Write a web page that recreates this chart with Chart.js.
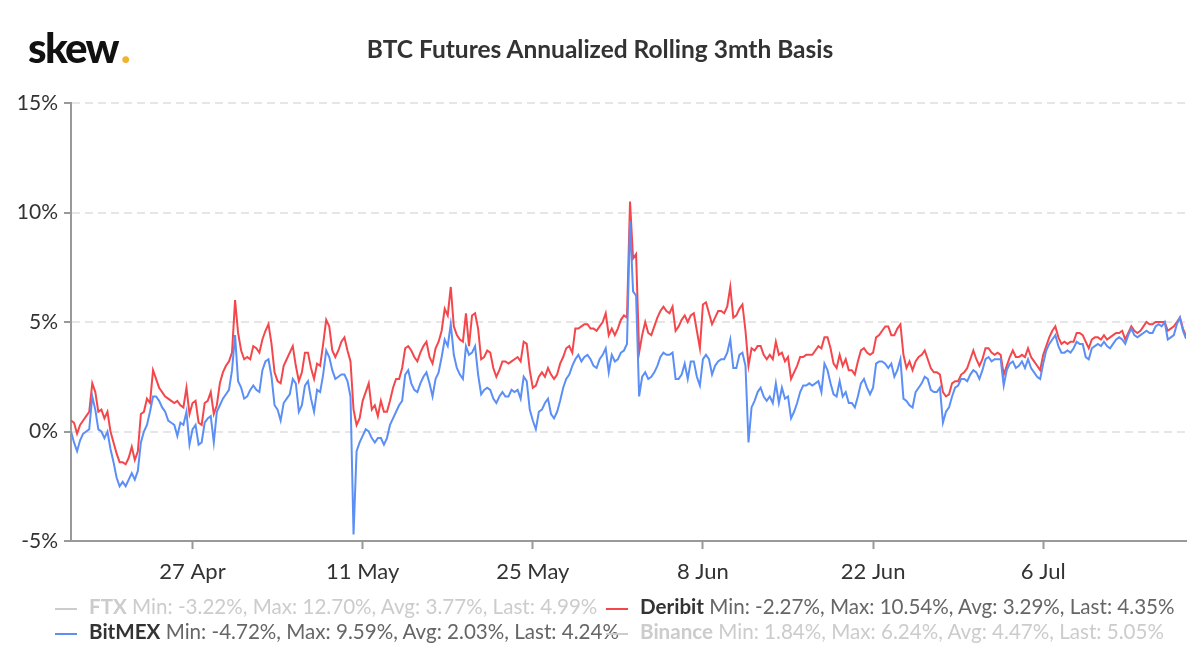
<!DOCTYPE html>
<html>
<head>
<meta charset="utf-8">
<script src="https://cdn.jsdelivr.net/npm/chart.js@4.4.1/dist/chart.umd.min.js"></script>
<style>
  html, body { margin: 0; padding: 0; background: #fff; }
  #wrap { position: relative; width: 1200px; height: 670px; font-family: Lato, sans-serif; }
  #chart { position: absolute; left: 0; top: 0; }
  #logo { position: absolute; left: 28px; top: 23px; font: 900 42px/48px Lato, sans-serif; color: #111; letter-spacing: -1.7px; }
  #logo span { color: #f0b232; margin-left: 3px; }
  #title { position: absolute; left: 0; top: 35px; width: 1200px; text-align: center; font: 700 24.5px/28px Lato, sans-serif; color: #333; }
  .leg { position: absolute; font: 20.6px/24px Lato, sans-serif; color: #666; white-space: nowrap; }
  .leg i { display: inline-block; width: 22px; height: 2px; vertical-align: middle; margin-right: 12px; }
  .leg b { font-weight: 700; color: #333; }
  .leg.off, .leg.off b { color: #ccc; }
</style>
</head>
<body>
<div id="wrap">
  <canvas id="chart" width="1200" height="670"></canvas>
  <div id="logo">skew<span>.</span></div>
  <div id="title">BTC Futures Annualized Rolling 3mth Basis</div>
  <div id="legend"></div>
</div>
<script>
// 6-hourly samples, day 0 = 17 Apr 2020
const dayStep = 0.25;
const tickDays = [10, 24, 38, 52, 66, 80];
const tickLabels = ["27 Apr", "11 May", "25 May", "8 Jun", "22 Jun", "6 Jul"];
const yTicks = [-5, 0, 5, 10, 15];

const deribit = [
  0.5, 0.4, -0.1, 0.3,  0.5, 0.7, 0.9, 2.2,  1.8, 0.9, 1.0, 0.6,  0.9, 0.0, -0.5, -1.0,
  -1.4, -1.4, -1.5, -1.2,  -0.7, -1.3, -0.9, 0.8,  0.9, 1.5, 1.3, 2.8,  2.4, 2.0, 1.8, 1.6,
  1.5, 1.4, 1.3, 1.4,  1.2, 1.1, 2.0, 0.8,  1.3, 1.4, 0.4, 0.3,  1.3, 1.4, 1.8, 0.8,
  1.2, 2.2, 2.7, 3.0,  3.2, 3.6, 6.0, 4.5,  3.7, 3.3, 3.4, 3.3,  3.9, 3.8, 3.6, 4.2,
  4.6, 4.9, 4.0, 2.7,  2.3, 2.2, 3.0, 3.3,  3.6, 3.9, 3.0, 2.3,  2.7, 3.6, 3.6, 2.9,
  2.4, 3.1, 3.0, 4.0,  5.1, 4.8, 3.7, 3.4,  3.7, 4.1, 4.3, 3.7,  3.2, 1.0, 0.3, 0.6,
  1.4, 1.8, 2.2, 1.0,  1.2, 0.7, 1.4, 0.9,  0.9, 1.4, 2.0, 2.4,  2.4, 2.9, 3.8, 3.9,
  3.7, 3.4, 3.2, 3.6,  3.9, 4.1, 3.4, 3.1,  3.8, 4.1, 4.6, 5.6,  5.3, 6.6, 4.8, 4.4,
  4.2, 4.1, 5.4, 3.9,  5.3, 5.4, 4.7, 3.3,  3.4, 3.7, 3.6, 2.9,  2.5, 2.8, 3.2, 3.2,
  3.1, 3.2, 3.3, 3.4,  3.2, 4.1, 4.0, 2.8,  2.0, 2.1, 2.5, 2.7,  2.5, 2.9, 2.6, 2.4,
  2.6, 3.1, 3.4, 3.8,  3.9, 3.6, 4.7, 4.7,  4.8, 4.9, 4.9, 4.7,  4.7, 4.6, 4.8, 5.0,
  5.4, 4.4, 4.7, 4.4,  4.7, 5.1, 5.3, 5.2,  10.5, 7.9, 8.1, 3.6,  4.4, 5.0, 4.5, 4.4,
  4.8, 5.2, 5.5, 5.7,  5.5, 5.4, 5.7, 4.6,  4.8, 5.1, 5.3, 5.0,  5.3, 5.4, 4.6, 3.8,
  5.8, 5.9, 5.4, 4.9,  5.2, 5.5, 5.5, 5.4,  5.7, 6.6, 5.2, 5.3,  5.6, 5.8, 4.6, 3.0,
  3.8, 3.7, 3.9, 3.9,  3.5, 3.3, 3.5, 3.3,  4.1, 3.5, 3.6, 3.2,  3.4, 2.4, 2.7, 3.0,
  3.4, 3.4, 3.5, 3.5,  3.5, 3.7, 3.9, 3.8,  4.3, 4.3, 3.8, 3.1,  2.9, 3.5, 3.0, 3.3,
  2.8, 2.8, 2.6, 3.2,  3.7, 3.8, 3.6, 3.5,  3.6, 4.3, 4.4, 4.6,  4.8, 4.8, 4.4, 4.4,
  4.7, 4.9, 3.5, 2.9,  3.2, 2.8, 3.2, 3.4,  3.5, 3.7, 3.3, 2.9,  2.7, 2.7, 2.6, 1.8,
  1.6, 1.7, 2.2, 2.3,  2.3, 2.6, 2.7, 2.9,  3.3, 3.7, 3.3, 3.0,  3.3, 3.8, 3.8, 3.6,
  3.5, 3.6, 3.5, 2.6,  3.0, 3.4, 3.7, 3.4,  3.4, 3.5, 3.4, 3.8,  3.4, 3.2, 3.0, 2.8,
  3.5, 3.9, 4.3, 4.6,  4.8, 4.3, 4.0, 4.1,  4.0, 4.1, 4.1, 4.5,  4.5, 4.4, 4.1, 3.8,
  4.2, 4.3, 4.3, 4.2,  4.4, 4.2, 4.3, 4.4,  4.5, 4.5, 4.6, 4.2,  4.5, 4.8, 4.6, 4.5,
  4.6, 4.8, 5.0, 4.9,  4.9, 5.0, 5.0, 5.0,  5.0, 4.6, 4.7, 4.8,  5.0, 5.2, 4.7, 4.35
];

const bitmex = [
  0.0, -0.5, -0.9, -0.4,  -0.1, 0.0, 0.1, 1.6,  1.0, 0.1, 0.0, -0.3,  0.0, -0.8, -1.4, -2.1,
  -2.5, -2.3, -2.5, -2.2,  -1.9, -2.2, -1.8, -0.5,  0.0, 0.3, 0.9, 1.6,  1.6, 1.4, 1.1, 0.9,
  0.5, 0.4, 0.3, -0.2,  0.4, 0.3, 0.9, -0.6,  0.1, 0.3, -0.6, -0.5,  0.4, 0.6, 0.7, -0.5,
  0.9, 1.2, 1.5, 1.7,  1.9, 2.8, 4.4, 2.3,  2.0, 1.5, 1.6, 1.9,  2.1, 1.9, 1.8, 2.8,
  3.2, 3.3, 2.5, 1.2,  1.0, 0.5, 1.3, 1.5,  1.7, 2.4, 2.2, 0.9,  1.2, 2.1, 2.3, 1.5,
  0.9, 1.9, 1.8, 2.6,  3.7, 3.4, 2.8, 2.4,  2.5, 2.6, 2.6, 2.3,  1.6, -4.7, -0.9, -0.5,
  -0.2, 0.1, 0.0, -0.3,  -0.5, -0.3, -0.3, -0.6,  -0.3, 0.3, 0.6, 0.9,  1.2, 1.4, 2.6, 2.8,
  2.2, 1.9, 1.8, 2.2,  2.5, 2.7, 2.2, 1.6,  2.4, 2.7, 3.4, 4.2,  3.9, 4.9, 3.5, 2.9,
  2.6, 2.4, 3.9, 3.5,  3.6, 3.9, 2.6, 1.7,  1.9, 2.0, 1.9, 1.5,  1.3, 1.6, 1.8, 1.6,
  1.6, 1.9, 1.8, 1.9,  1.5, 2.5, 2.3, 1.0,  0.5, 0.1, 0.9, 1.0,  1.3, 1.5, 0.8, 0.6,
  0.9, 1.4, 2.0, 2.4,  2.6, 3.0, 3.3, 3.5,  3.2, 3.4, 3.5, 3.3,  3.0, 2.9, 3.3, 3.5,
  3.8, 2.7, 3.5, 3.2,  3.3, 3.6, 3.7, 4.0,  9.6, 6.4, 6.2, 1.6,  2.5, 2.7, 2.4, 2.5,
  2.7, 3.0, 3.4, 3.6,  3.5, 3.5, 3.6, 2.4,  2.4, 2.6, 3.1, 2.4,  3.2, 3.2, 2.5, 2.1,
  3.3, 3.5, 3.3, 2.6,  3.0, 3.2, 3.3, 3.3,  3.6, 4.2, 2.9, 2.9,  3.5, 3.6, 3.0, -0.5,
  1.1, 1.4, 1.8, 2.0,  1.6, 1.4, 1.6, 1.3,  2.2, 1.3, 2.0, 1.5,  1.6, 0.6, 0.9, 1.3,
  1.8, 2.1, 2.1, 2.2,  2.1, 2.2, 2.3, 1.8,  3.1, 2.8, 2.2, 1.7,  1.6, 2.3, 1.6, 1.8,
  1.3, 1.3, 1.1, 1.6,  2.2, 2.4, 2.0, 1.7,  2.0, 3.1, 3.2, 3.2,  3.1, 2.9, 3.1, 2.5,
  2.8, 3.3, 1.5, 1.4,  1.2, 1.1, 1.8, 2.0,  2.2, 2.5, 2.4, 1.9,  1.8, 1.8, 2.0, 0.4,
  0.9, 1.1, 1.6, 2.0,  2.1, 2.4, 2.4, 2.3,  2.6, 2.8, 2.7, 2.4,  2.8, 3.3, 3.4, 3.2,
  3.3, 3.3, 3.3, 2.1,  2.8, 3.1, 3.2, 2.9,  3.0, 3.2, 2.9, 3.3,  2.9, 2.7, 2.5, 2.4,
  3.1, 3.7, 4.0, 4.2,  4.4, 3.9, 3.6, 3.6,  3.7, 3.6, 3.8, 4.1,  4.0, 4.0, 3.4, 3.3,
  3.8, 3.9, 4.0, 3.9,  4.1, 3.9, 3.8, 4.0,  4.2, 4.3, 4.2, 4.0,  4.4, 4.7, 4.4, 4.3,
  4.4, 4.5, 4.6, 4.5,  4.5, 4.8, 4.9, 4.8,  5.0, 4.2, 4.3, 4.4,  4.9, 5.2, 4.6, 4.24
];

const legendNames = ["FTX", "Deribit", "BitMEX", "Binance"];
const legendStats = [
  "Min: -3.22%, Max: 12.70%, Avg: 3.77%, Last: 4.99%",
  "Min: -2.27%, Max: 10.54%, Avg: 3.29%, Last: 4.35%",
  "Min: -4.72%, Max: 9.59%, Avg: 2.03%, Last: 4.24%",
  "Min: 1.84%, Max: 6.24%, Avg: 4.47%, Last: 5.05%"
];
const legendShown = [false, true, true, false];

const colors = { Deribit: "#f4474c", BitMEX: "#5b8ff6" };
const legendPos = [[55, 594], [606, 594], [55, 619], [606, 619]];

// legend in html so names and stats can have different colours
const legendEl = document.getElementById("legend");
legendNames.forEach(function(name, i) {
  const d = document.createElement("div");
  d.className = "leg" + (legendShown[i] ? "" : " off");
  d.style.left = legendPos[i][0] + "px";
  d.style.top = legendPos[i][1] + "px";
  const c = legendShown[i] ? colors[name] : "#ccc";
  d.innerHTML = '<i style="background:' + c + '"></i><b>' + name + "</b> " + legendStats[i];
  legendEl.appendChild(d);
});

function toPoints(arr) {
  return arr.map(function(v, i) { return { x: i * dayStep, y: v }; });
}

const ctx = document.getElementById("chart").getContext("2d");
const chart = new Chart(ctx, {
  type: "line",
  data: {
    datasets: [
      {
        label: "BitMEX",
        data: toPoints(bitmex),
        borderColor: colors.BitMEX,
        borderWidth: 2,
        pointRadius: 0,
        tension: 0
      },
      {
        label: "Deribit",
        data: toPoints(deribit),
        borderColor: colors.Deribit,
        borderWidth: 2,
        pointRadius: 0,
        tension: 0
      }
    ]
  },
  options: {
    responsive: false,
    animation: false,
    layout: { padding: { top: 103, right: 14, left: 0, bottom: 0 } },
    plugins: {
      legend: { display: false },
      tooltip: { enabled: false }
    },
    scales: {
      x: {
        type: "linear",
        min: 0,
        max: (deribit.length - 1) * dayStep,
        afterBuildTicks: function(s) { s.ticks = tickDays.map(function(v) { return { value: v }; }); },
        afterFit: function(s) { s.height = 129; },
        ticks: {
          autoSkip: false,
          maxRotation: 0,
          padding: 10,
          color: "#333",
          font: { family: "Lato", size: 22 },
          callback: function(v) { return tickLabels[tickDays.indexOf(v)]; }
        },
        grid: { drawOnChartArea: false, drawTicks: true, tickLength: 8, tickColor: "#999", tickWidth: 2 },
        border: { color: "#999", width: 2 }
      },
      y: {
        min: -5,
        max: 15,
        afterBuildTicks: function(s) { s.ticks = yTicks.map(function(v) { return { value: v }; }); },
        afterFit: function(s) { s.width = 71; },
        ticks: {
          color: "#333",
          padding: 6,
          font: { family: "Lato", size: 21 },
          callback: function(v) { return v + "%"; }
        },
        grid: { color: "#e6e6e6", lineWidth: 2, tickColor: "#999", tickLength: 7, tickWidth: 2 },
        border: { color: "#999", width: 2, dash: [8, 5] }
      }
    }
  }
});
</script>
</body>
</html>
